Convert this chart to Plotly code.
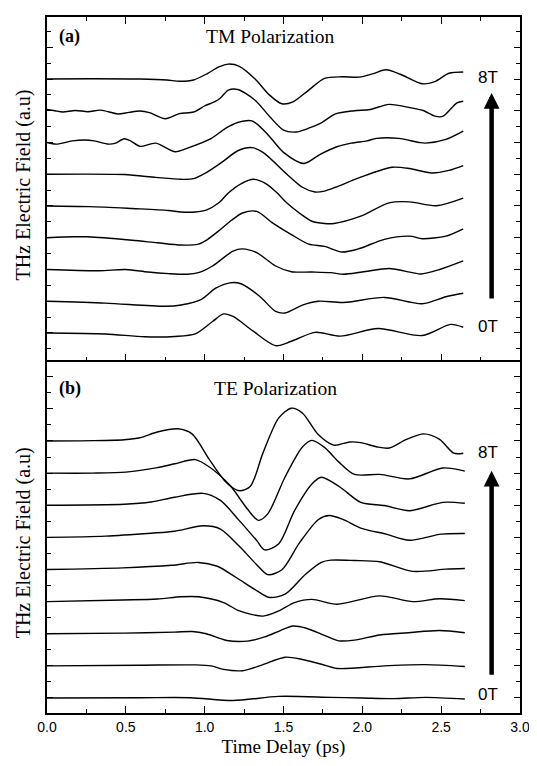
import plotly.graph_objects as go

# ---------------- data: TM polarization (panel a), time in ps, field in a.u. ----------------
tm_fields = ["0T", "1T", "2T", "3T", "4T", "5T", "6T", "7T", "8T"]

tm_0T_t = [0, 0.37, 0.62, 0.81, 0.94, 1.05, 1.12, 1.18, 1.31, 1.45, 1.55, 1.7, 1.86, 2.1, 2.38, 2.56, 2.64]
tm_0T_v = [0, -0.03, -0.12, -0.11, -0.03, 0.36, 0.6, 0.52, 0.05, -0.4, -0.26, 0.02, -0.1, 0.14, -0.08, 0.27, 0.18]

tm_1T_t = [0, 0.37, 0.75, 0.85, 0.98, 1.07, 1.16, 1.23, 1.35, 1.45, 1.51, 1.62, 1.72, 1.88, 2.14, 2.38, 2.53, 2.64]
tm_1T_v = [0, -0.06, -0.16, -0.12, 0.06, 0.41, 0.58, 0.55, 0.15, -0.32, -0.37, -0.12, 0.0, -0.04, 0.12, -0.08, 0.14, 0.25]

tm_2T_t = [0, 0.33, 0.5, 0.64, 0.77, 0.89, 0.96, 1.05, 1.18, 1.24, 1.33, 1.45, 1.55, 1.68, 1.8, 1.88, 2.0, 2.17, 2.27, 2.37, 2.49, 2.64]
tm_2T_v = [0, -0.04, 0.0, -0.08, -0.13, -0.15, -0.1, 0.11, 0.58, 0.65, 0.53, 0.11, -0.07, -0.08, -0.1, -0.15, -0.08, 0.03, -0.05, -0.14, 0.0, 0.27]

tm_3T_t = [0, 0.17, 0.26, 0.54, 0.7, 0.85, 0.96, 1.01, 1.1, 1.17, 1.24, 1.33, 1.43, 1.55, 1.66, 1.76, 1.87, 1.97, 2.14, 2.3, 2.38, 2.53, 2.64]
tm_3T_v = [0, 0.03, 0.03, -0.08, -0.16, -0.23, -0.2, -0.08, 0.26, 0.55, 0.78, 0.83, 0.47, 0.1, -0.2, -0.27, -0.45, -0.36, -0.05, 0.05, -0.03, 0.05, 0.28]

tm_4T_t = [0, 0.27, 0.54, 0.77, 0.85, 0.94, 1.01, 1.09, 1.15, 1.23, 1.31, 1.39, 1.46, 1.52, 1.6, 1.68, 1.76, 1.82, 1.99, 2.17, 2.3, 2.47, 2.64]
tm_4T_v = [0, -0.02, -0.08, -0.14, -0.19, -0.19, -0.13, 0.1, 0.41, 0.7, 0.84, 0.7, 0.41, 0.1, -0.22, -0.48, -0.55, -0.55, -0.32, 0.1, 0.13, 0.01, 0.25]

tm_5T_t = [0, 0.49, 0.69, 0.85, 0.93, 1.01, 1.11, 1.21, 1.3, 1.37, 1.52, 1.62, 1.7, 1.76, 1.83, 1.99, 2.19, 2.3, 2.44, 2.55, 2.64]
tm_5T_v = [0, -0.01, -0.1, -0.16, -0.14, 0.05, 0.38, 0.74, 0.84, 0.69, 0.01, -0.41, -0.56, -0.53, -0.41, -0.09, 0.22, 0.18, 0.04, 0.12, 0.27]

tm_6T_t = [0, 0.06, 0.16, 0.24, 0.3, 0.39, 0.43, 0.49, 0.53, 0.59, 0.69, 0.81, 0.9, 1.04, 1.13, 1.21, 1.3, 1.39, 1.5, 1.63, 1.73, 1.83, 1.93, 2.03, 2.09, 2.23, 2.36, 2.4, 2.53, 2.64]
tm_6T_v = [0.0, -0.05, 0.05, 0.08, 0.05, -0.05, -0.03, 0.12, 0.05, -0.12, -0.02, -0.29, -0.16, 0.12, 0.44, 0.63, 0.68, 0.31, -0.31, -0.66, -0.38, -0.15, -0.02, 0.05, 0.13, 0.13, 0.0, -0.02, 0.1, 0.36]

tm_7T_t = [0, 0.05, 0.1, 0.18, 0.26, 0.34, 0.45, 0.52, 0.59, 0.65, 0.75, 0.84, 0.93, 1.0, 1.07, 1.1, 1.15, 1.21, 1.32, 1.41, 1.5, 1.58, 1.66, 1.74, 1.83, 1.95, 2.05, 2.17, 2.31, 2.39, 2.46, 2.51, 2.6, 2.64]
tm_7T_v = [0.04, 0.0, -0.04, 0.01, -0.03, 0.02, -0.1, -0.05, -0.01, -0.06, -0.25, -0.09, -0.04, 0.15, 0.3, 0.4, 0.65, 0.67, 0.33, -0.17, -0.61, -0.67, -0.55, -0.38, -0.1, 0.0, 0.04, 0.2, 0.09, 0.0, -0.17, -0.18, 0.25, 0.3]

tm_8T_t = [0, 0.29, 0.59, 0.76, 0.84, 0.93, 1.02, 1.09, 1.15, 1.22, 1.32, 1.41, 1.49, 1.56, 1.66, 1.76, 1.87, 1.98, 2.07, 2.15, 2.24, 2.38, 2.46, 2.55, 2.64]
tm_8T_v = [0, 0.01, 0.0, -0.03, -0.07, -0.03, 0.18, 0.38, 0.47, 0.4, 0.0, -0.5, -0.78, -0.72, -0.35, 0.02, 0.07, 0.06, 0.17, 0.29, 0.15, -0.15, -0.08, 0.18, 0.22]

# ---------------- data: TE polarization (panel b) ----------------
te_0T_t = [0, 0.6, 0.91, 1.18, 1.47, 1.8, 2.0, 2.2, 2.4, 2.65]
te_0T_v = [0, 0.01, 0.01, -0.08, 0.05, 0.02, 0.0, -0.02, 0.02, -0.03]

te_1T_t = [0, 0.59, 0.94, 1.04, 1.12, 1.24, 1.37, 1.51, 1.62, 1.74, 1.84, 2.14, 2.4, 2.65]
te_1T_v = [0, 0.02, 0.03, 0.0, -0.11, -0.15, 0.04, 0.27, 0.2, 0.05, -0.08, 0.0, 0.04, -0.02]

te_2T_t = [0, 0.49, 0.81, 0.92, 1.01, 1.14, 1.27, 1.38, 1.48, 1.56, 1.64, 1.76, 1.85, 1.95, 2.11, 2.29, 2.49, 2.65]
te_2T_v = [0, 0.02, 0.05, 0.07, 0.0, -0.21, -0.23, -0.1, 0.1, 0.24, 0.18, -0.05, -0.22, -0.2, -0.04, 0.03, 0.1, 0.03]

te_3T_t = [0, 0.48, 0.7, 0.85, 0.96, 1.12, 1.22, 1.37, 1.47, 1.57, 1.68, 1.84, 2.11, 2.32, 2.49, 2.65]
te_3T_v = [0, 0.05, 0.08, 0.15, 0.15, -0.03, -0.29, -0.45, -0.29, -0.03, 0.07, -0.08, 0.18, 0.0, 0.09, 0.03]

te_4T_t = [0, 0.48, 0.79, 0.96, 1.08, 1.2, 1.33, 1.41, 1.51, 1.64, 1.74, 1.8, 1.95, 2.11, 2.32, 2.53, 2.65]
te_4T_v = [0, 0.05, 0.13, 0.22, 0.1, -0.25, -0.66, -0.87, -0.77, -0.15, 0.22, 0.29, 0.28, 0.24, -0.06, 0.01, 0.03]

te_5T_t = [0, 0.37, 0.66, 0.81, 0.99, 1.1, 1.22, 1.33, 1.4, 1.49, 1.6, 1.72, 1.79, 1.88, 1.99, 2.15, 2.3, 2.5, 2.65]
te_5T_v = [0, 0.04, 0.13, 0.19, 0.36, 0.26, -0.28, -0.85, -1.16, -1.01, -0.18, 0.55, 0.68, 0.55, 0.29, 0.1, -0.09, 0.1, 0.12]

te_6T_t = [0, 0.49, 0.66, 0.81, 0.99, 1.1, 1.22, 1.33, 1.38, 1.47, 1.57, 1.68, 1.74, 1.86, 1.99, 2.14, 2.3, 2.51, 2.65]
te_6T_v = [0, 0.03, 0.1, 0.25, 0.37, 0.15, -0.48, -1.1, -1.39, -1.2, -0.17, 0.66, 0.87, 0.56, 0.09, -0.01, -0.17, 0.09, 0.06]

te_7T_t = [0, 0.29, 0.5, 0.7, 0.81, 0.94, 1.03, 1.16, 1.27, 1.34, 1.4, 1.51, 1.62, 1.68, 1.76, 1.85, 1.95, 2.11, 2.3, 2.51, 2.65]
te_7T_v = [0, 0.0, 0.03, 0.17, 0.29, 0.42, 0.19, -0.38, -1.11, -1.47, -1.27, -0.12, 0.81, 1.02, 0.8, 0.35, -0.04, -0.04, -0.18, 0.16, 0.06]

te_8T_t = [0, 0.29, 0.49, 0.59, 0.7, 0.83, 0.92, 1.03, 1.14, 1.22, 1.29, 1.37, 1.47, 1.55, 1.62, 1.72, 1.82, 1.92, 1.99, 2.09, 2.17, 2.28, 2.39, 2.49, 2.58, 2.64]
te_8T_v = [0, 0.01, 0.04, 0.1, 0.28, 0.38, 0.22, -0.58, -1.31, -1.55, -1.41, -0.37, 0.72, 1.02, 0.87, 0.2, -0.13, -0.03, -0.05, -0.18, -0.22, 0.05, 0.22, 0.05, -0.38, -0.38]

tm_series = [(tm_0T_t, tm_0T_v), (tm_1T_t, tm_1T_v), (tm_2T_t, tm_2T_v), (tm_3T_t, tm_3T_v),
             (tm_4T_t, tm_4T_v), (tm_5T_t, tm_5T_v), (tm_6T_t, tm_6T_v), (tm_7T_t, tm_7T_v),
             (tm_8T_t, tm_8T_v)]
te_series = [(te_0T_t, te_0T_v), (te_1T_t, te_1T_v), (te_2T_t, te_2T_v), (te_3T_t, te_3T_v),
             (te_4T_t, te_4T_v), (te_5T_t, te_5T_v), (te_6T_t, te_6T_v), (te_7T_t, te_7T_v),
             (te_8T_t, te_8T_v)]

x_ticks = [0.0, 0.5, 1.0, 1.5, 2.0, 2.5, 3.0]
x_tick_labels = ["0.0", "0.5", "1.0", "1.5", "2.0", "2.5", "3.0"]

# ---------------- figure ----------------
fig = go.Figure()
LINE = dict(color="black", width=1.4, shape="spline", smoothing=0.8)

for k, (t, v) in enumerate(tm_series):
    fig.add_trace(go.Scatter(x=t, y=[k + a for a in v], mode="lines", line=LINE,
                             xaxis="x2", yaxis="y2", name="TM " + tm_fields[k], showlegend=False,
                             hoverinfo="skip"))
for k, (t, v) in enumerate(te_series):
    fig.add_trace(go.Scatter(x=t, y=[k + a for a in v], mode="lines", line=LINE,
                             xaxis="x", yaxis="y", name="TE " + tm_fields[k], showlegend=False,
                             hoverinfo="skip"))

SERIF = "Liberation Serif, Times New Roman, serif"
SANS = "Liberation Sans, Arial, sans-serif"

split = 0.5065
xcommon = dict(range=[0, 3], tickvals=x_ticks, ticktext=x_tick_labels, ticks="inside", ticklen=7,
               tickwidth=1.3, tickcolor="black", showline=True, linecolor="black", linewidth=1.6,
               showgrid=False, zeroline=False,
               minor=dict(dtick=0.25, tick0=0, ticks="inside", ticklen=4, tickwidth=1.2, tickcolor="black"))
ycommon = dict(tick0=0, dtick=1, ticks="inside", ticklen=6, tickwidth=1.3, tickcolor="black",
               showline=True, linecolor="black", linewidth=1.6, showgrid=False, zeroline=False,
               showticklabels=False, mirror="allticks",
               minor=dict(dtick=0.5, tick0=0, ticks="inside", ticklen=4, tickwidth=1.2, tickcolor="black"))

fig.update_layout(
    width=537, height=766,
    margin=dict(l=39, r=25, t=9, b=61, autoexpand=False),
    paper_bgcolor="white", plot_bgcolor="white",
    xaxis=dict(**xcommon, anchor="y", domain=[0, 1], mirror=False,
               tickfont=dict(family=SANS, size=14, color="black"),
               title=dict(text="Time Delay (ps)", font=dict(family=SERIF, size=19, color="black"), standoff=6)),
    xaxis2=dict(**xcommon, anchor="y2", domain=[0, 1], mirror="allticks", showticklabels=False),
    yaxis=dict(**ycommon, domain=[0, split], range=[-0.467, 10.506], anchor="x"),
    yaxis2=dict(**ycommon, domain=[split, 1], range=[-0.866, 9.953], anchor="x2"),
)

ann = []
ylab = "THz Electric Field (a.u)"
ann.append(dict(text=ylab, xref="paper", yref="paper", x=-0.049, y=0.759, textangle=-90,
                showarrow=False, xanchor="center", yanchor="middle",
                font=dict(family=SERIF, size=20, color="black")))
ann.append(dict(text=ylab, xref="paper", yref="paper", x=-0.049, y=0.245, textangle=-90,
                showarrow=False, xanchor="center", yanchor="middle",
                font=dict(family=SERIF, size=20, color="black")))
ann.append(dict(text="<b>(a)</b>", xref="paper", yref="paper", x=0.048, y=0.972, showarrow=False,
                xanchor="center", yanchor="middle", font=dict(family=SERIF, size=18, color="black")))
ann.append(dict(text="TM Polarization", xref="paper", yref="paper", x=0.472, y=0.972, showarrow=False,
                xanchor="center", yanchor="middle", font=dict(family=SERIF, size=19.5, color="black")))
ann.append(dict(text="<b>(b)</b>", xref="paper", yref="paper", x=0.048, y=0.466, showarrow=False,
                xanchor="center", yanchor="middle", font=dict(family=SERIF, size=18, color="black")))
ann.append(dict(text="TE Polarization", xref="paper", yref="paper", x=0.484, y=0.466, showarrow=False,
                xanchor="center", yanchor="middle", font=dict(family=SERIF, size=19.5, color="black")))
# field labels
ann.append(dict(text="8T", xref="x2", yref="y2", x=2.8, y=8.05, showarrow=False,
                font=dict(family=SANS, size=17, color="black")))
ann.append(dict(text="0T", xref="x2", yref="y2", x=2.8, y=0.2, showarrow=False,
                font=dict(family=SANS, size=17, color="black")))
ann.append(dict(text="8T", xref="x", yref="y", x=2.8, y=7.65, showarrow=False,
                font=dict(family=SANS, size=17, color="black")))
ann.append(dict(text="0T", xref="x", yref="y", x=2.8, y=0.1, showarrow=False,
                font=dict(family=SANS, size=17, color="black")))
# arrows (field increasing)
ann.append(dict(text="", x=2.82, y=7.56, ax=2.82, ay=1.04, xref="x2", yref="y2", axref="x2", ayref="y2",
                showarrow=True, arrowhead=2, arrowsize=0.7, arrowwidth=4.5, arrowcolor="black", standoff=0))
ann.append(dict(text="", x=2.82, y=7.07, ax=2.82, ay=0.68, xref="x", yref="y", axref="x", ayref="y",
                showarrow=True, arrowhead=2, arrowsize=0.7, arrowwidth=4.5, arrowcolor="black", standoff=0))
fig.update_layout(annotations=ann)

fig.write_html("out.html")
